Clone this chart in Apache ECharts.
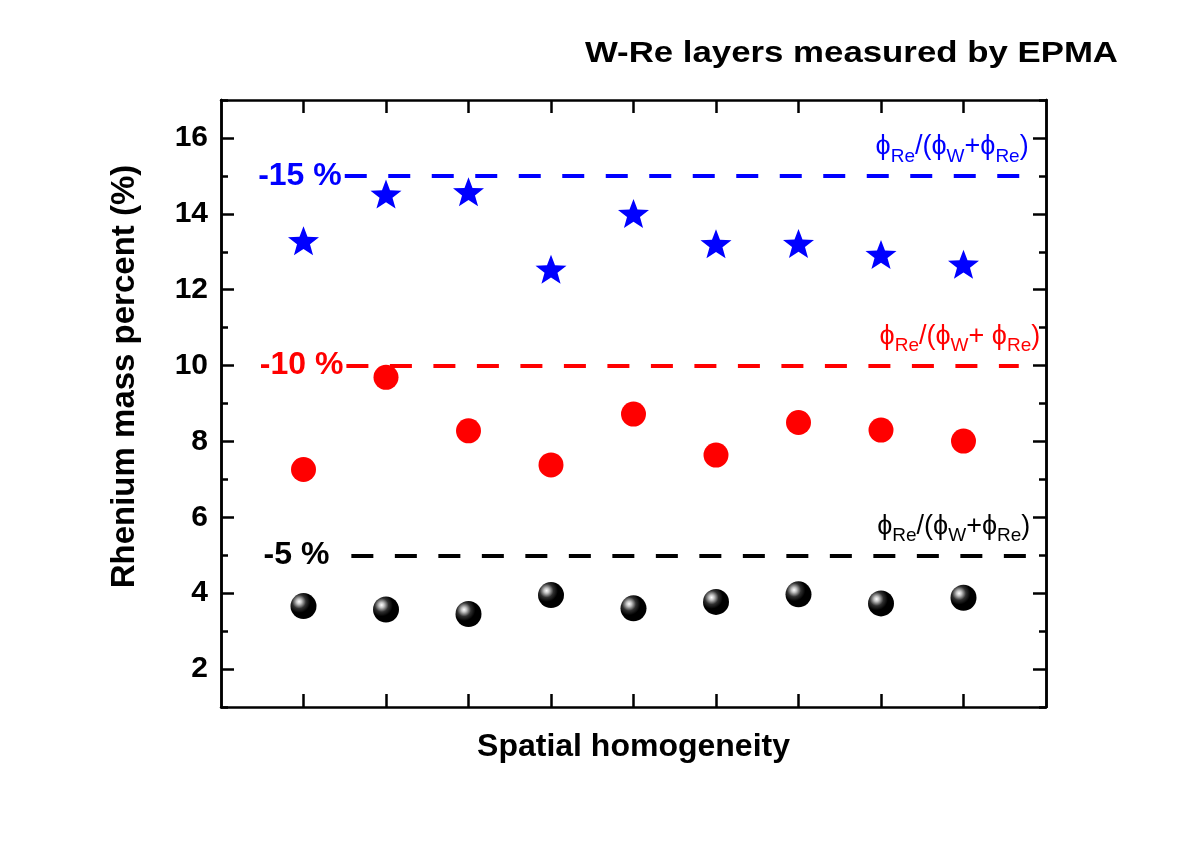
<!DOCTYPE html>
<html>
<head>
<meta charset="utf-8">
<title>W-Re layers measured by EPMA</title>
<script src="https://cdn.jsdelivr.net/npm/echarts@6.0.0/dist/echarts.min.js"></script>
<style>
    html, body { margin: 0; padding: 0; background: #ffffff; }
    #chart { width: 1203px; height: 841px; }
</style>
</head>
<body>
<div id="chart"></div>
<script>
    // measurement positions along the sample
    var positions = [1, 2, 3, 4, 5, 6, 7, 8, 9]
    // rhenium mass percent, one array per layer
    var re15 = [13.29, 14.52, 14.58, 12.54, 14.01, 13.21, 13.22, 12.93, 12.67]
    var re10 = [7.26, 9.69, 8.28, 7.38, 8.72, 7.64, 8.50, 8.30, 8.01]
    var re5 = [3.66, 3.57, 3.45, 3.95, 3.60, 3.77, 3.97, 3.73, 3.88]
    // nominal compositions (dashed lines)
    var nominal = [15, 10, 5]
    var nominalText = ['-15 %', '-10 %', '-5 %']
    var lineFrom = [1.5, 1.52, 1.58]
    var lineTo = [9.68, 9.67, 9.78]
    var ratioAt = [9.79, 9.93, 9.81]
    var yMajor = [2, 4, 6, 8, 10, 12, 14, 16]

    var FONT = 'Liberation Sans, Arial, sans-serif'
    var colors = ['#0000ff', '#ff0000', '#000000']
    var labelGap = [3, 3, 22]
    // five point star, slightly fat like the Origin symbol
    var STAR = 'path://M50,0L62.3,33L97.6,34.5L69.9,56.4L79.4,90.5L50,71L20.6,90.5L30.1,56.4L2.4,34.5L37.7,33Z'

    function pairs (ys) {
        return positions.map(function (x, i) { return [x, ys[i]] })
    }

    function guide (i) {
        return {
            silent: true,
            symbol: 'none',
            animation: false,
            lineStyle: { color: colors[i], width: 4, type: [22, 21.5], cap: 'butt' },
            label: {
                show: true,
                position: 'start',
                distance: labelGap[i],
                formatter: nominalText[i],
                color: colors[i],
                fontFamily: FONT,
                fontWeight: 'bold',
                fontSize: 32
            },
            data: [[{ coord: [lineFrom[i], nominal[i]] }, { coord: [lineTo[i], nominal[i]] }]]
        }
    }

    function yAxisDef (pos, major) {
        return {
            type: 'value',
            position: pos,
            min: 1,
            max: 17,
            interval: 1,
            axisLine: { show: true, lineStyle: { color: '#000', width: 2.5 } },
            axisTick: major
                ? { show: true, inside: true, length: 13, customValues: yMajor, lineStyle: { color: '#000', width: 2.5 } }
                : { show: true, inside: true, length: 7, lineStyle: { color: '#000', width: 2.5 } },
            axisLabel: (major && pos === 'left')
                ? { show: true, customValues: yMajor, margin: 13, color: '#000', fontFamily: FONT, fontWeight: 'bold', fontSize: 30 }
                : { show: false },
            splitLine: { show: false }
        }
    }

    function xAxisDef (pos) {
        var ax = {
            type: 'value',
            position: pos,
            min: 0,
            max: 10,
            interval: 1,
            axisLine: { show: true, onZero: false, lineStyle: { color: '#000', width: 2.5 } },
            axisTick: { show: true, inside: true, length: 13, customValues: positions, lineStyle: { color: '#000', width: 2.5 } },
            axisLabel: { show: false },
            splitLine: { show: false }
        }
        if (pos === 'bottom') {
            ax.name = 'Spatial homogeneity'
            ax.nameLocation = 'middle'
            ax.nameGap = 24
            ax.nameTextStyle = { color: '#000', fontFamily: FONT, fontWeight: 'bold', fontSize: 32 }
        }
        return ax
    }

    var yMain = yAxisDef('left', true)
    yMain.name = 'Rhenium mass percent (%)'
    yMain.nameLocation = 'middle'
    yMain.nameGap = 80
    yMain.nameTextStyle = { color: '#000', fontFamily: FONT, fontWeight: 'bold', fontSize: 33, padding: [0, 0, 0, 54] }

    var option = {
        animation: false,
        backgroundColor: '#ffffff',
        grid: { left: 221, right: 157, top: 100, bottom: 134 },
        xAxis: [xAxisDef('bottom'), xAxisDef('top')],
        yAxis: [yMain, yAxisDef('left', false), yAxisDef('right', true), yAxisDef('right', false)],
        series: [
            {
                name: '15 %',
                type: 'scatter',
                symbol: STAR,
                symbolSize: [31, 29],
                itemStyle: { color: colors[0], opacity: 1 },
                data: pairs(re15),
                markLine: guide(0)
            },
            {
                name: '10 %',
                type: 'scatter',
                symbol: 'circle',
                symbolSize: 25,
                itemStyle: { color: colors[1], opacity: 1 },
                data: pairs(re10),
                markLine: guide(1)
            },
            {
                name: '5 %',
                type: 'scatter',
                symbol: 'circle',
                symbolSize: 26,
                itemStyle: {
                    opacity: 1,
                    color: new echarts.graphic.RadialGradient(0.33, 0.33, 0.7, [
                        { offset: 0, color: '#ffffff' },
                        { offset: 0.14, color: '#c4c4c4' },
                        { offset: 0.38, color: '#303030' },
                        { offset: 0.62, color: '#000000' },
                        { offset: 1, color: '#000000' }
                    ])
                },
                data: pairs(re5),
                markLine: guide(2)
            }
        ]
    }

    var myChart = echarts.init(document.getElementById('chart'))
    myChart.setOption(option)

    // phi ratio annotations above each dashed line, plus the title
    var graphics = nominal.map(function (v, i) {
        var p = myChart.convertToPixel({ xAxisIndex: 0, yAxisIndex: 0 }, [ratioAt[i], v])
        var plus = i === 1 ? '+ ϕ' : '+ϕ'
        return {
            type: 'text',
            x: p[0],
            y: p[1] - 24,
            silent: true,
            style: {
                text: '{m|ϕ}{s|Re}{m|/(ϕ}{s|W}{m|' + plus + '}{s|Re}{m|)}',
                align: 'right',
                verticalAlign: 'middle',
                fill: colors[i],
                rich: {
                    m: { fontFamily: FONT, fontSize: 27, lineHeight: 28, padding: [0, 0, 10, 0], fill: colors[i] },
                    s: { fontFamily: FONT, fontSize: 19, lineHeight: 19, verticalAlign: 'bottom', fill: colors[i] }
                }
            }
        }
    })
    graphics.push({
        type: 'text',
        x: 1118,
        y: 54,
        scaleX: 1.2,
        silent: true,
        style: {
            text: 'W-Re layers measured by EPMA',
            align: 'right',
            verticalAlign: 'middle',
            fill: '#000',
            font: 'bold 29px ' + FONT
        }
    })
    myChart.setOption({ graphic: graphics })
</script>
</body>
</html>
